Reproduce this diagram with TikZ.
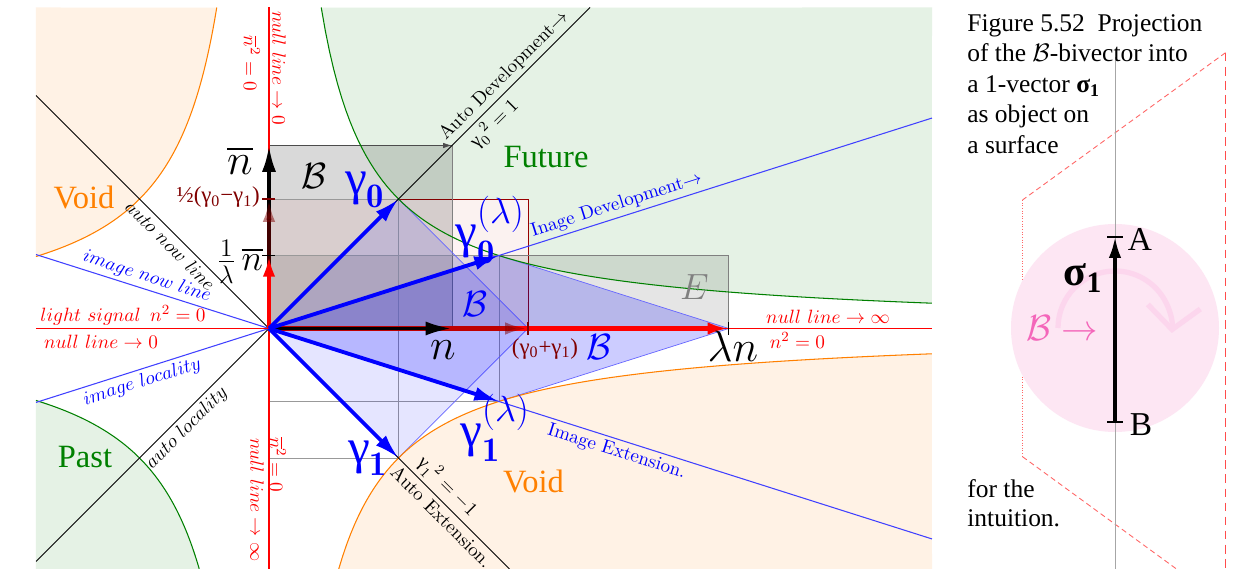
\documentclass[tikz,border=0pt]{standalone}
\usepackage{amsmath,amssymb}
\usepackage{fontspec}
\newfontfamily\timesfont{Liberation Serif}
\usepackage{xcolor}
\usepackage{tikz}
\usetikzlibrary{arrows.meta,positioning,calc}
\newcommand{\hypc}{6.708}
\newcommand{\gam}{\mbox{\timesfont γ}}

\begin{document}
\begin{tikzpicture}[
    >=Latex,
    futurefill/.style={fill=green!50!black!10},
    voidfill/.style={fill=orange!10},
    hypfuture/.style={green!50!black, line width=0.6pt},
    hypvoid/.style={orange, line width=0.6pt},
    autoline/.style={black, line width=0.5pt},
    imageline/.style={blue!75, line width=0.6pt},
    nullline/.style={red, line width=0.6pt},
    redbox/.style={draw=red!60!black, line width=0.4pt, fill=red!5, fill opacity=0.85},
    greybox/.style={draw=gray, line width=0.4pt, fill=black, fill opacity=0.15},
    ebox/.style={draw=gray, line width=0.4pt, fill=black, fill opacity=0.1},
    thinbox/.style={draw=gray!80, line width=0.4pt},
    bluediamond/.style={draw=blue!60, line width=0.4pt, fill=blue, fill opacity=0.1},
    bluekite/.style={draw=blue!60, line width=0.4pt, fill=blue, fill opacity=0.2},
    vecblue/.style={blue, line width=2.2pt, -{Latex[length=14pt,width=8pt]}},
    vecblack/.style={black, line width=2.2pt, -{Latex[length=15pt,width=8pt]}},
    vecred/.style={red, line width=2.4pt, -{Latex[length=12pt,width=7pt]}},
    vecdark/.style={red!50!black, opacity=0.5, line width=2.4pt, -{Latex[length=13pt,width=7pt]}},
    linelabel/.style={font=\fontsize{10.8}{12}\selectfont, inner sep=2pt},
    mathlabel/.style={font=\fontsize{10.5}{12}\selectfont, inner sep=2pt},
    nulllabel/.style={text=red, font=\fontsize{11}{13}\selectfont},
    biglabel/.style={font=\fontsize{28}{30}\selectfont},
    gamlabel/.style={text=blue, font=\fontsize{28}{30}\selectfont},
    calB/.style={font=\fontsize{20}{22}\selectfont},
    region/.style={font=\timesfont\fontsize{18.5}{20}\selectfont},
    sumlabel/.style={text=red!50!black, font=\timesfont\fontsize{13}{15}\selectfont},
    captext/.style={font=\timesfont\fontsize{14.5}{17}\selectfont, anchor=base west, inner sep=0pt},
]
\useasboundingbox (-5.38,-4.81) rectangle (19.44,6.57);
\fill[white] (-5.38,-4.81) rectangle (19.44,6.57);

% points of the plane
\coordinate (O) at (0,0);
\coordinate (g0) at (2.59,2.59);
\coordinate (g1) at (2.59,-2.59);
\coordinate (g0l) at (4.597,1.459);
\coordinate (g1l) at (4.597,-1.459);
\coordinate (nn) at (3.66,0);
\coordinate (nb) at (0,3.66);
\coordinate (nnb) at (3.66,3.66);
\coordinate (sum) at (5.18,0);
\coordinate (half) at (0,2.59);
\coordinate (ln) at (9.195,0);
\coordinate (nbl) at (0,1.459);
% ends of the lines on the frame
\coordinate (ADev) at (6.42,6.42);
\coordinate (AExt) at (4.81,-4.81);
\coordinate (ANow) at (-4.66,4.66);
\coordinate (ALoc) at (-4.66,-4.66);
\coordinate (IDev) at (13.26,4.209);
\coordinate (IExt) at (13.26,-4.209);
\coordinate (INow) at (-4.66,1.479);
\coordinate (ILoc) at (-4.66,-1.479);
\coordinate (axL) at (-4.66,0);
\coordinate (axR) at (13.26,0);
\coordinate (axT) at (0,6.42);
\coordinate (axB) at (0,-4.81);

\begin{scope}
\clip (-4.66,-4.81) rectangle (13.26,6.42);
% regions
\fill[futurefill] (13.26,6.42) -- plot[domain=1.045:13.26, samples=150] (\x,{\hypc/\x}) -- cycle;
\fill[futurefill] (-4.66,-4.81) -- plot[domain=-4.66:-1.3946, samples=100] (\x,{\hypc/\x}) -- cycle;
\fill[voidfill] (-4.66,6.42) -- plot[domain=-4.66:-1.045, samples=100] (\x,{-\hypc/\x}) -- cycle;
\fill[voidfill] (13.26,-4.81) -- plot[domain=1.3946:13.26, samples=150] (\x,{-\hypc/\x}) -- cycle;

% boxes
\draw[redbox] (O) rectangle (sum |- half);
\draw[greybox] (O) rectangle (nnb);
\draw[ebox] (O) rectangle (ln |- nbl);
\draw[thinbox] (0,-2.59) rectangle (g0);
\draw[thinbox] (0,-1.459) rectangle (g0l);
\draw[gray!60!black, line width=0.4pt, -{Latex[length=5pt,width=3pt]}] (nb) -- (nnb);

% bivector areas
\filldraw[bluediamond] (O) -- (g0) -- (sum) -- (g1) -- cycle;
\filldraw[bluekite] (O) -- (g0l) -- (ln) -- (g1l) -- cycle;

% hyperbolas
\draw[hypfuture] plot[domain=1.045:13.26, samples=150] (\x,{\hypc/\x});
\draw[hypfuture] plot[domain=-4.66:-1.3946, samples=100] (\x,{\hypc/\x});
\draw[hypvoid] plot[domain=-4.66:-1.045, samples=100] (\x,{-\hypc/\x});
\draw[hypvoid] plot[domain=1.3946:13.26, samples=150] (\x,{-\hypc/\x});

% auto lines
\draw[autoline] (O) -- (ADev)
    node[linelabel, sloped, above, pos=0.76] (lADev) {Auto Development$\rightarrow$}
    node[linelabel, sloped, below, pos=0.67] (lG0) {$\gam_0{}^2=1$};
\draw[autoline] (O) -- (AExt)
    node[linelabel, sloped, below, pos=0.75] (lAExt) {Auto Extension.}
    node[linelabel, sloped, above, pos=0.70] (lG1) {$\gam_1{}^2=-1$};
\draw[autoline] (ANow) -- (O)
    node[mathlabel, sloped, below, pos=0.61] (lANow) {$auto\ now\ line$};
\draw[autoline] (ALoc) -- (O)
    node[mathlabel, sloped, below, pos=0.61] (lALoc) {$auto\ locality$};

% image lines
\draw[imageline] (O) -- (IDev)
    node[linelabel, text=blue, sloped, above, pos=0.53] (lIDev) {Inage Development$\rightarrow$};
\draw[imageline] (O) -- (IExt)
    node[linelabel, text=blue, sloped, below, pos=0.53] (lIExt) {Image Extension.};
\draw[imageline] (INow) -- (O)
    node[mathlabel, text=blue, sloped, above, pos=0.46] (lINow) {$image\ now\ line$};
\draw[imageline] (ILoc) -- (O)
    node[mathlabel, text=blue, sloped, below, pos=0.44] (lILoc) {$image\ locality$};

% null lines
\draw[nullline] (axL) -- (axR);
\draw[nullline] (axT) -- (axB);
\node[nulllabel] (lLight) at (-2.92,0.27) {$light\ signal\ \,n^2=0$};
\node[nulllabel] (lNull0) at (-3.36,-0.27) {$null\ line\rightarrow0$};
\node[nulllabel] (lNullInf) at (11.18,0.24) {$null\ line\rightarrow\infty$};
\node[nulllabel] (lNsq) at (10.57,-0.23) {$n^2=0$};
\node[nulllabel, rotate=-90] (lNullTop) at (0.2,5.21) {$null\ line\rightarrow0$};
\node[nulllabel, rotate=-90] (lNbTop) at (-0.34,5.3) {$\overline{n}^2=0$};
\node[nulllabel, rotate=-90] (lNbBot) at (0.18,-2.73) {$\overline{n}^2=0$};
\node[nulllabel, rotate=-90] (lNullBot) at (-0.24,-3.43) {$null\ line\rightarrow\infty$};

% vectors
\draw[vecred] (O) -- (ln);
\draw[vecdark] (O) -- (sum);
\draw[vecblack] (O) -- (nn);
\draw[vecblack] (O) -- (nb);
\draw[vecdark] (O) -- (half);
\draw[vecred] (O) -- (nbl);
\draw[vecblue] (O) -- (g0);
\draw[vecblue] (O) -- (g1);
\draw[vecblue] (O) -- (g0l);
\draw[vecblue] (O) -- (g1l);

% ticks
\draw[red!50!black, line width=0.8pt] (half) ++(-0.13,0) -- ++(0.26,0);
\draw[black, line width=0.8pt] (nbl) ++(-0.13,0) -- ++(0.26,0);
\draw[red!50!black, line width=0.8pt] (sum) ++(0,-0.13) -- ++(0,0.26);
\draw[black, line width=0.8pt] (ln) ++(0,-0.13) -- ++(0,0.26);

% labels
\node[biglabel] (lNb) at (-0.58,3.37) {$\overline{n}$};
\node[biglabel] (lN) at (3.48,-0.43) {$n$};
\node[font=\fontsize{25}{27}\selectfont] (lLn) at (9.28,-0.35) {$\lambda n$};
\node[font=\fontsize{20}{22}\selectfont] (lNbl) at (-0.58,1.34) {$\frac{1}{\lambda}\,\overline{n}$};
\node[sumlabel, anchor=east] (lHalf) at (-0.06,2.62) {½(γ\textsubscript{0}−γ\textsubscript{1})};
\node[sumlabel] (lSum) at (5.52,-0.41) {(γ\textsubscript{0}+γ\textsubscript{1})};
\node[calB] (lB) at (0.9,3.05) {$\mathcal{B}$};
\node[calB, text=blue] (lB1) at (4.12,0.49) {$\mathcal{B}$};
\node[calB, text=blue] (lB2) at (6.6,-0.37) {$\mathcal{B}$};
\node[calB, text=gray] (lE) at (8.51,0.82) {$E$};
\node[gamlabel] (lg0) at (1.92,2.77) {$\gam_{\mathbf{0}}$};
\node[gamlabel] (lg1) at (1.98,-2.59) {$\gam_{\mathbf{1}}$};
\node[gamlabel] (lg0l) at (4.42,1.97) {$\gam^{(\lambda)}_{\mathbf{0}}$};
\node[gamlabel] (lg1l) at (4.52,-1.99) {$\gam^{(\lambda)}_{\mathbf{1}}$};
\node[region, text=green!50!black] (lFuture) at (5.54,3.43) {Future};
\node[region, text=green!50!black] (lPast) at (-3.68,-2.57) {Past};
\node[region, text=orange] (lVoid1) at (-3.7,2.63) {Void};
\node[region, text=orange] (lVoid2) at (5.29,-3.05) {Void};
\end{scope}

% side sketch
\coordinate (sc) at (16.92,0.01);
\coordinate (Apt) at (16.92,1.836);
\coordinate (Bpt) at (16.92,-1.864);
\draw[red!70, line width=0.9pt, dash pattern=on 5pt off 3pt] (19.13,5.516) -- (19.13,-4.81);
\draw[red!60, line width=0.5pt, densely dashed] (19.13,5.516) -- (15.07,2.57);
\draw[red!60, line width=0.5pt, densely dotted] (15.07,2.57) -- (15.07,-2.564);
\draw[red!60, line width=0.5pt, densely dashed] (15.07,-2.564) -- (18.15,-4.81);
\fill[magenta!10] (sc) circle (2.08);
\draw[gray!70, line width=0.5pt] (16.92,5.43) -- (16.92,-4.81);
\draw[magenta!16, line width=3pt, -{Straight Barb[length=13pt,width=30pt]}]
    (sc) ++(180:1.14) arc[start angle=180, end angle=-5, radius=1.14];
\node[text=magenta!60, font=\fontsize{22}{24}\selectfont] (lBarrow) at (15.86,0.01) {$\mathcal{B}\rightarrow$};
\draw[black, line width=2pt, -{Latex[length=12pt,width=7pt]}] (Bpt) -- (Apt);
\draw[black, line width=1.1pt] (Apt) ++(-0.16,0) -- ++(0.32,0);
\draw[black, line width=1.1pt] (Bpt) ++(-0.16,0) -- ++(0.32,0);
\node[font=\timesfont\fontsize{19}{21}\selectfont] (lA) at (17.42,1.79) {A};
\node[font=\timesfont\fontsize{19}{21}\selectfont] (lBB) at (17.44,-1.93) {B};
\node[font=\timesfont\bfseries\fontsize{24}{26}\selectfont] (lsigma) at (16.28,1.01) {σ\textsubscript{1}};

% caption
\node[captext] (cap1) at (13.96,5.94) {Figure 5.52\ \ Projection};
\node[captext] (cap2) at (13.96,5.332) {of the $\mathcal{B}$-bivector into};
\node[captext] (cap3) at (13.96,4.724) {a 1-vector \textbf{σ\textsubscript{1}}};
\node[captext] (cap4) at (13.96,4.116) {as object on};
\node[captext] (cap5) at (13.96,3.508) {a surface};
\node[captext] (cap6) at (13.96,-3.39) {for the};
\node[captext] (cap7) at (13.96,-3.97) {intuition.};
\end{tikzpicture}
\end{document}
